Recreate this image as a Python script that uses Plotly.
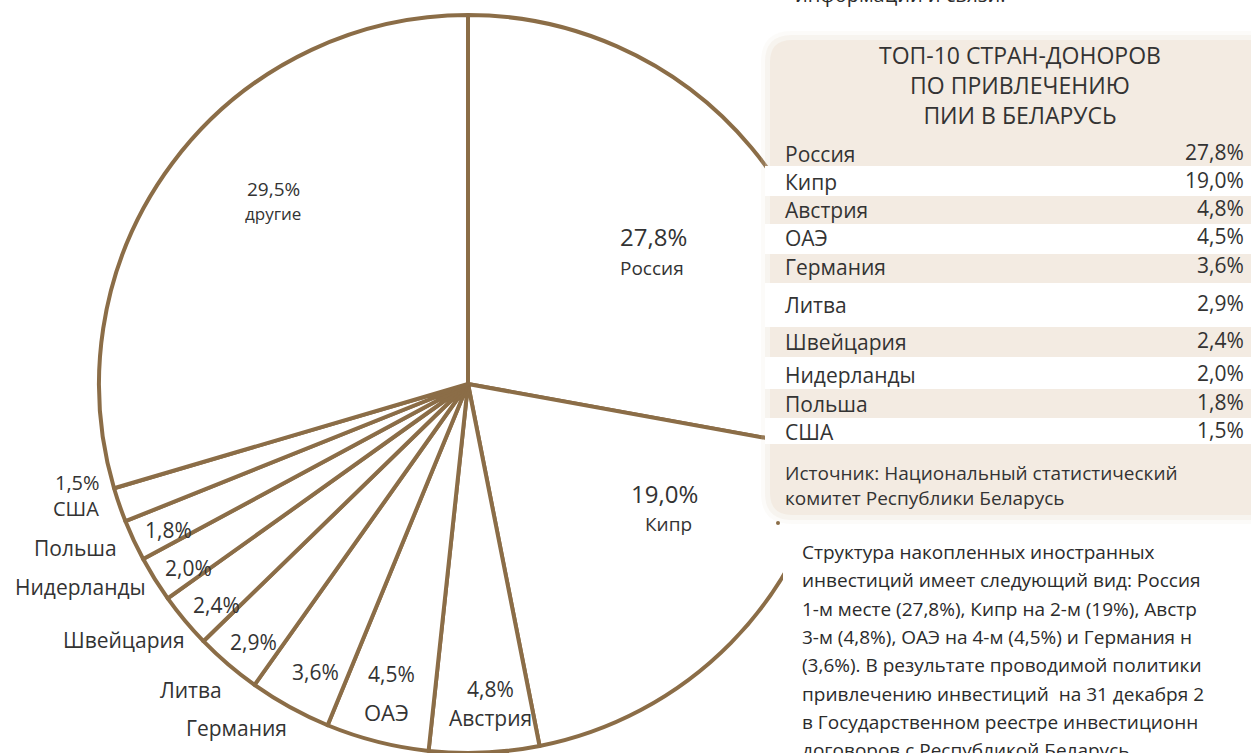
import plotly.graph_objects as go

W, H = 1251, 753

# ---------------- data ----------------
countries = ["Россия", "Кипр", "Австрия", "ОАЭ", "Германия", "Литва",
             "Швейцария", "Нидерланды", "Польша", "США", "другие"]
shares = [27.8, 19.0, 4.8, 4.5, 3.6, 2.9, 2.4, 2.0, 1.8, 1.5, 29.5]

table_countries = countries[:10]
table_values = shares[:10]

title_lines = ["ТОП-10 СТРАН-ДОНОРОВ", "ПО ПРИВЛЕЧЕНИЮ", "ПИИ В БЕЛАРУСЬ"]
source_lines = ["Источник: Национальный статистический",
                "комитет Республики Беларусь"]
paragraph = [
    "Структура накопленных иностранных",
    "инвестиций имеет следующий вид: Россия",
    "1-м месте (27,8%), Кипр на 2-м (19%), Австр",
    "3-м (4,8%), ОАЭ на 4-м (4,5%) и Германия н",
    "(3,6%). В результате проводимой политики",
    "привлечению инвестиций  на 31 декабря 2",
    "в Государственном реестре инвестиционн",
    "договоров с Республикой Беларусь",
]
top_cut_text = "информации и связи."

# ---------------- helpers ----------------
BROWN = "#8B6D47"
TXT = "#333333"
BEIGE = "#F3EBE2"
FONT = "Open Sans"


def X(px):
    return px / W


def Y(py):
    return 1 - py / H


def fmt(v):
    return f"{v:.1f}".replace(".", ",") + "%"


def rounded_rect(x0, y0, x1, y1, r):
    pts = [
        f"M {X(x0 + r)},{Y(y0)}",
        f"L {X(x1 - r)},{Y(y0)}",
        f"Q {X(x1)},{Y(y0)} {X(x1)},{Y(y0 + r)}",
        f"L {X(x1)},{Y(y1 - r)}",
        f"Q {X(x1)},{Y(y1)} {X(x1 - r)},{Y(y1)}",
        f"L {X(x0 + r)},{Y(y1)}",
        f"Q {X(x0)},{Y(y1)} {X(x0)},{Y(y1 - r)}",
        f"L {X(x0)},{Y(y0 + r)}",
        f"Q {X(x0)},{Y(y0)} {X(x0 + r)},{Y(y0)}",
        "Z",
    ]
    return " ".join(pts)


# ---------------- pie ----------------
cx, cy, R = 468, 384, 369
fig = go.Figure(go.Pie(
    labels=countries,
    values=shares,
    sort=False,
    direction="clockwise",
    rotation=0,
    textinfo="none",
    hoverinfo="skip",
    marker=dict(colors=["white"] * len(shares), line=dict(color=BROWN, width=4)),
    domain=dict(x=[X(cx - R), X(cx + R)], y=[Y(cy + R), Y(cy - R)]),
    showlegend=False,
))

shapes = []
annotations = []

# white area behind the paragraph (hides the pie's right edge there)
shapes.append(dict(type="rect", xref="paper", yref="paper",
                   x0=X(783), x1=X(W + 5), y0=Y(H + 5), y1=Y(512),
                   fillcolor="white", line=dict(width=0), layer="above"))
# soft shadow + table box
for grow, alpha in [(9, 0.12), (5, 0.22)]:
    shapes.append(dict(type="path",
                       path=rounded_rect(770 - grow, 40 - grow, 1270 + grow, 515 + grow, 22 + grow),
                       xref="paper", yref="paper",
                       fillcolor=f"rgba(232,220,206,{alpha})",
                       line=dict(width=0), layer="above"))
shapes.append(dict(type="path", path=rounded_rect(770, 40, 1270, 515, 22),
                   xref="paper", yref="paper", fillcolor=BEIGE,
                   line=dict(width=0), layer="above"))
# white rows (Кипр, ОАЭ, Литва, Нидерланды, США)
white_bands = [(166, 196), (224, 254), (283, 327), (357, 389), (418, 444)]
for y0, y1 in white_bands:
    shapes.append(dict(type="rect", xref="paper", yref="paper",
                       x0=X(765), x1=X(W + 5), y0=Y(y1), y1=Y(y0),
                       fillcolor="white", line=dict(width=0), layer="above"))
# small dot below the box
shapes.append(dict(type="circle", xref="paper", yref="paper",
                   x0=X(776), x1=X(780), y0=Y(525), y1=Y(521),
                   fillcolor=BROWN, line=dict(width=0), layer="above"))


def ann(text, x, y, size, xanchor="center", color=TXT, align="center"):
    annotations.append(dict(text=text, x=X(x), y=Y(y), xref="paper", yref="paper",
                            xanchor=xanchor, yanchor="middle", showarrow=False,
                            align=align,
                            font=dict(family=FONT, size=size, color=color)))


# pie labels: (pct position, pct size, name position, name size, name anchor)
pie_label_layout = {
    "Россия":     ((653, 237), 24, (652, 268), 19, "center"),
    "Кипр":       ((665, 493), 24, (668, 524), 19, "center"),
    "Австрия":    ((490, 689), 21, (490, 718), 21, "center"),
    "ОАЭ":        ((392, 674), 21, (386, 712), 22, "center"),
    "Германия":   ((315, 672), 21, (289, 728), 21, "right"),
    "Литва":      ((253, 642), 21, (224, 690), 21, "right"),
    "Швейцария":  ((216, 605), 21, (187, 640), 21, "right"),
    "Нидерланды": ((188, 568), 21, (148, 587), 21, "right"),
    "Польша":     ((168, 530), 21, (119, 548), 21, "right"),
    "США":        ((77, 482), 20, (76, 509), 20, "center"),
    "другие":     ((273, 189), 19, (273, 214), 17, "center"),
}
for name, val in zip(countries, shares):
    (px, py), ps, (nx, ny), ns, na = pie_label_layout[name]
    ann(fmt(val), px, py, ps)
    ann(name, nx, ny, ns, xanchor=na)

# table title (one block, three lines)
ann("<br>".join(title_lines), 1020, 85, 23)

# table rows
row_y = [154, 182, 210, 238, 267, 305, 342, 375, 404, 432]
for name, val, ry in zip(table_countries, table_values, row_y):
    ann(name, 783, ry, 21, xanchor="left")
    ann(fmt(val), 1246, ry - 2, 21, xanchor="right")

# source (one block, two lines)
ann("<br>".join(source_lines), 783, 485, 19, xanchor="left", align="left")

# paragraph
for i, line in enumerate(paragraph):
    ann(line, 800, 552 + i * 28.3, 19, xanchor="left", color="#2b2b2b")

# cut text at the very top
ann(top_cut_text, 793, -6, 20, xanchor="left", color="#2b2b2b")

fig.update_layout(
    width=W, height=H,
    margin=dict(l=0, r=0, t=0, b=0),
    paper_bgcolor="white",
    plot_bgcolor="white",
    shapes=shapes,
    annotations=annotations,
    showlegend=False,
)

fig.write_html(
    "out.html",
    config={"displayModeBar": False},
    post_script="document.body.style.margin='0px';document.body.style.overflow='hidden';",
)
